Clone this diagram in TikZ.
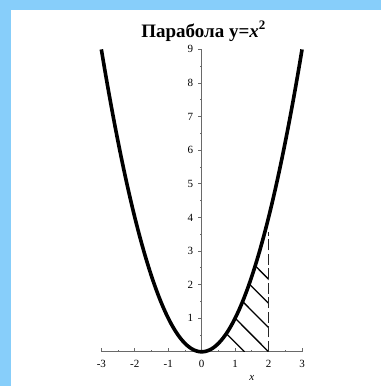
\documentclass[tikz,border=0pt]{standalone}
\usepackage{fontspec}
\setmainfont{Liberation Serif}
\usetikzlibrary{calc}
\definecolor{frameblue}{RGB}{135,206,250}
\definecolor{axisgray}{RGB}{105,105,105}

\begin{document}
\begin{tikzpicture}[x=33.45pt,y=33.6pt,
    axis/.style={line width=0.8pt,color=axisgray},
    curve/.style={line width=3.6pt},
    hatch/.style={line width=1.3pt},
    bound/.style={line width=1.4pt,color=black!85,dash pattern=on 11pt off 3.5pt},
    ticklabel/.style={font=\fontsize{11}{13}\selectfont,inner sep=0pt}]
    %%%%% START %%%%%

    \useasboundingbox (-201.7pt,-34.2pt) rectangle (179.3pt,351.8pt);
    \fill[frameblue] (-201.7pt,-34.2pt) rectangle (179.3pt,351.8pt);
    \fill[white] (-190.7pt,-34.2pt) rectangle (179.3pt,341.8pt);

    % axes
    \draw[axis] (-3,0) -- (3,0);
    \draw[axis] (0,0) -- (0,9);
    \foreach \i in {-3,...,3}{
        \draw[axis] (\i,0) -- ++(0,3.5pt);
        \node[ticklabel] (xt\i) at (\i,-0.36) {\i};
    }
    \foreach \i in {-2.5,-1.5,...,2.5}
        \draw[axis] (\i,0) -- ++(0,2pt);
    \foreach \i in {1,...,9}{
        \draw[axis] (0,\i) -- ++(-4pt,0);
        \node[ticklabel] (yt\i) at (-0.335,\i) {\i};
    }
    \foreach \i in {0.5,1.5,...,8.5}
        \draw[axis] (0,\i) -- ++(-2pt,0);

    % hatched area under y=x^2 on [0,2]
    \begin{scope}
        \clip (0,0) -- plot[domain=0:2,samples=40] (\x,{\x*\x}) -- (2,0) -- cycle;
        \foreach \c in {1.28,2.0,2.72,3.44,4.16}
            \draw[hatch] (\c,0) -- ++(-3,3);
    \end{scope}
    \draw[bound] (2,0) -- (2,3.58);

    % parabola
    \draw[curve] plot[domain=-3:3,samples=90] (\x,{\x*\x});

    \node[font=\bfseries\fontsize{19}{22}\selectfont,anchor=base] (title) at (0.05,9.345)
        {Парабола y=\textit{x}\raisebox{0.42em}{\fontsize{13}{13}\selectfont 2}};
    \node[ticklabel,font=\itshape\fontsize{11}{13}\selectfont] (xlabel) at (1.5,-0.77) {x};

    %%%%% END %%%%%
\end{tikzpicture}
\end{document}
